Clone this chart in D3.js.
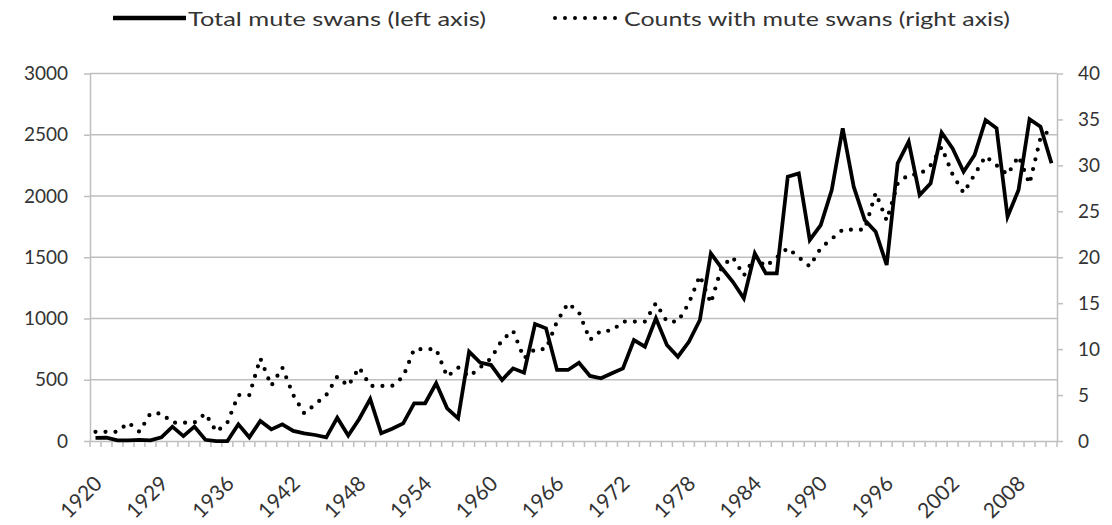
<!DOCTYPE html>
<html>
<head>
<meta charset="utf-8">
<script src="https://cdn.jsdelivr.net/npm/d3@7"></script>
<style>
	body { margin: 0; background: #fff; }
	text { font-family: Lato, "Liberation Sans", sans-serif; fill: #333; }
</style>
</head>
<body>
<div id="chart-area"></div>
<script>
// categories (the early years are not all there)
var years = [1920, 1921, 1922, 1923, 1925, 1927, 1929, 1930, 1931, 1932, 1933, 1935,
	1936, 1937, 1938, 1939, 1940, 1941, 1942, 1943, 1944, 1945, 1946, 1947,
	1948, 1949, 1950, 1951, 1952, 1953, 1954, 1955, 1956, 1957, 1958, 1959,
	1960, 1961, 1962, 1963, 1964, 1965, 1966, 1967, 1968, 1969, 1970, 1971,
	1972, 1973, 1974, 1975, 1976, 1977, 1978, 1979, 1980, 1981, 1982, 1983,
	1984, 1985, 1986, 1987, 1988, 1989, 1990, 1991, 1992, 1993, 1994, 1995,
	1996, 1997, 1998, 1999, 2000, 2001, 2002, 2003, 2004, 2005, 2006, 2007,
	2008, 2009, 2010, 2011];

// total mute swans (left axis)
var totalSwans = [25, 27, 5, 5, 10, 5, 30, 117, 40, 117, 10, 0,
	0, 136, 30, 163, 95, 136, 82, 63, 49, 30, 190, 45,
	180, 343, 63, 100, 144, 308, 308, 471, 267, 185, 729, 640,
	620, 498, 593, 558, 955, 920, 580, 580, 639, 531, 512, 553,
	593, 824, 770, 1002, 784, 688, 810, 988, 1532, 1410, 1300, 1165,
	1532, 1369, 1369, 2158, 2185, 1641, 1763, 2049, 2553, 2076, 1804, 1708,
	1437, 2267, 2443, 2008, 2104, 2517, 2389, 2198, 2335, 2620, 2553, 1831,
	2049, 2626, 2566, 2267];

// counts with mute swans (right axis)
var countsWith = [1, 1, 1, 2, 1, 3, 3, 2, 2, 2, 3, 1,
	2, 5, 5, 9, 6, 8, 5, 3, 4, 5, 7, 6,
	8, 6, 6, 6, 7, 10, 10, 10, 7, 8, 7, 8,
	9, 11, 12, 9, 10, 10, 13, 15, 14, 11, 12, 12,
	13, 13, 13, 15, 13, 13, 15, 18, 15, 19, 20, 18,
	20, 19, 20, 21, 20, 19, 21, 22, 23, 23, 23, 27,
	24, 28, 29, 29, 30, 32, 29, 27, 29, 31, 30, 29,
	31, 28, 33, 34];

var leftTicks = [0, 500, 1000, 1500, 2000, 2500, 3000];
var rightTicks = [0, 5, 10, 15, 20, 25, 30, 35, 40];
var seriesNames = ["Total mute swans (left axis)", "Counts with mute swans (right axis)"];

var W = 1112, H = 525;
var plot = { left: 90, right: 1057, top: 73.5, bottom: 441 };
var gridColor = "#bfbfbf";
var font = "Lato, 'Liberation Sans', sans-serif";

var svg = d3.select("#chart-area").append("svg")
	.attr("width", W)
	.attr("height", H);

// SCALES
var x = d3.scaleBand()
	.domain(years)
	.range([plot.left, plot.right])
	.paddingInner(0)
	.paddingOuter(0);
var cx = d => x(d) + x.bandwidth() / 2;
var yL = d3.scaleLinear().domain([0, 3000]).range([plot.bottom, plot.top]);
var yR = d3.scaleLinear().domain([0, 40]).range([plot.bottom, plot.top]);

// gridlines
svg.append("g").selectAll("line")
	.data(leftTicks.filter(d => d > 0))
	.enter().append("line")
	.attr("x1", plot.left).attr("x2", plot.right)
	.attr("y1", d => yL(d)).attr("y2", d => yL(d))
	.attr("stroke", gridColor)
	.attr("stroke-width", 1.5);

// Left axis
var leftAxis = svg.append("g")
	.attr("transform", "translate(" + plot.left + ",0)")
	.call(d3.axisLeft(yL).tickValues(leftTicks).tickFormat(d3.format("d"))
		.tickSize(6).tickPadding(16).tickSizeOuter(0));
// Right axis
var rightAxis = svg.append("g")
	.attr("transform", "translate(" + plot.right + ",0)")
	.call(d3.axisRight(yR).tickValues(rightTicks).tickFormat(d3.format("d"))
		.tickSize(6).tickPadding(15).tickSizeOuter(0));

[leftAxis, rightAxis].forEach(a => {
	a.selectAll("path, line").attr("stroke", gridColor).attr("stroke-width", 1.5);
	a.selectAll("text").attr("font-size", "19px").attr("fill", "#333")
		.style("font-family", font);
});

// X axis: labels every 6th category
var xAxis = svg.append("g")
	.attr("transform", "translate(0," + plot.bottom + ")")
	.call(d3.axisBottom(x).tickValues(years.filter((d, i) => i % 6 === 0)).tickSize(0).tickSizeOuter(0));
xAxis.select(".domain").attr("stroke", gridColor).attr("stroke-width", 1.5);
xAxis.selectAll("text")
	.attr("y", 0)
	.attr("dy", 0)
	.attr("font-size", "21px")
	.attr("fill", "#333")
	.style("font-family", font)
	.style("text-anchor", "end")
	.attr("transform", "translate(8,44) rotate(-45)");

// category tick marks at the boundaries
svg.append("g").selectAll("line")
	.data(years.concat(["end"]))
	.enter().append("line")
	.attr("x1", d => d === "end" ? plot.right : x(d))
	.attr("x2", d => d === "end" ? plot.right : x(d))
	.attr("y1", plot.bottom)
	.attr("y2", plot.bottom + 6)
	.attr("stroke", gridColor)
	.attr("stroke-width", 1.5);

// LINES
var lineTotal = d3.line()
	.x((d, i) => cx(years[i]))
	.y(d => yL(d));
var lineCounts = d3.line()
	.x((d, i) => cx(years[i]))
	.y(d => yR(d));

svg.append("path")
	.datum(countsWith)
	.attr("d", lineCounts)
	.attr("fill", "none")
	.attr("stroke", "#000")
	.attr("stroke-width", 4.2)
	.attr("stroke-linecap", "round")
	.attr("stroke-dasharray", "0,10");

svg.append("path")
	.datum(totalSwans)
	.attr("d", lineTotal)
	.attr("fill", "none")
	.attr("stroke", "#000")
	.attr("stroke-width", 3.75)
	.attr("stroke-linejoin", "miter");

// LEGEND
var legend = svg.append("g");
legend.append("line")
	.attr("x1", 113).attr("x2", 186).attr("y1", 18).attr("y2", 18)
	.attr("stroke", "#000").attr("stroke-width", 4.5);
legend.append("text")
	.attr("x", 188).attr("y", 18)
	.attr("dominant-baseline", "central")
	.attr("font-size", "20px")
	.attr("textLength", 298)
	.attr("lengthAdjust", "spacingAndGlyphs")
	.text(seriesNames[0]);
legend.append("line")
	.attr("x1", 555).attr("x2", 617).attr("y1", 18).attr("y2", 18)
	.attr("stroke", "#000").attr("stroke-width", 4)
	.attr("stroke-linecap", "round")
	.attr("stroke-dasharray", "0,10");
legend.append("text")
	.attr("x", 624).attr("y", 18)
	.attr("dominant-baseline", "central")
	.attr("font-size", "20px")
	.attr("textLength", 386)
	.attr("lengthAdjust", "spacingAndGlyphs")
	.text(seriesNames[1]);
</script>
</body>
</html>
